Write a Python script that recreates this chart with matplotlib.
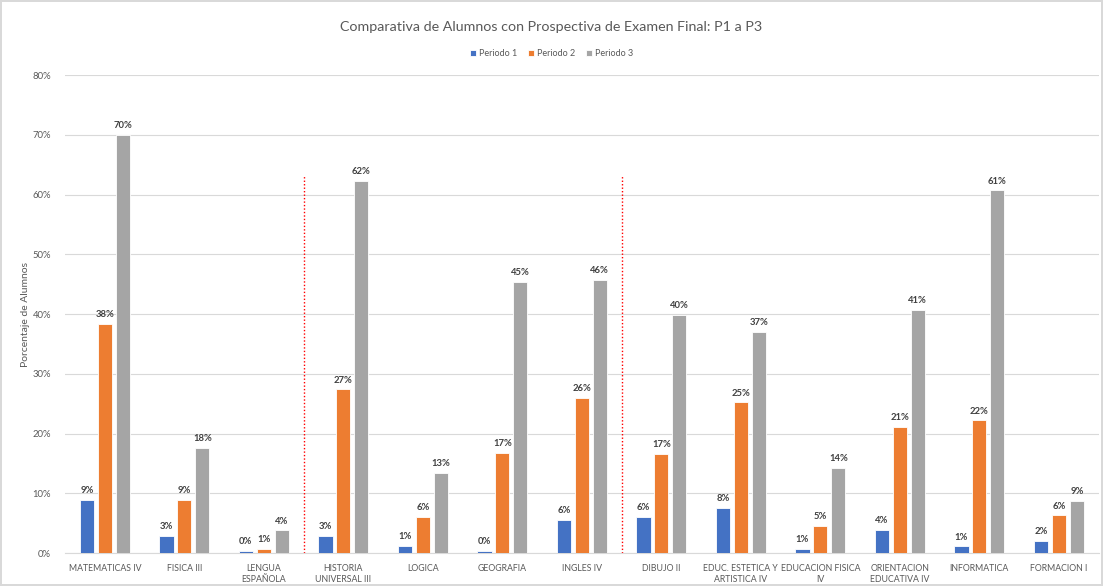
import matplotlib
matplotlib.use("Agg")
import matplotlib.pyplot as plt
from matplotlib.ticker import PercentFormatter
import numpy as np

plt.rcParams['font.family'] = ['Lato', 'DejaVu Sans']

categories = ["MATEMATICAS IV", "FISICA III", "LENGUA\nESPAÑOLA", "HISTORIA\nUNIVERSAL III",
              "LOGICA", "GEOGRAFIA", "INGLES IV", "DIBUJO II", "EDUC. ESTETICA Y\nARTISTICA IV",
              "EDUCACION FISICA\nIV", "ORIENTACION\nEDUCATIVA IV", "INFORMATICA", "FORMACION I"]
periodo1 = [0.089, 0.028, 0.003, 0.028, 0.012, 0.003, 0.056, 0.060, 0.076, 0.007, 0.039, 0.011, 0.020]
periodo2 = [0.383, 0.089, 0.007, 0.274, 0.060, 0.167, 0.260, 0.166, 0.252, 0.046, 0.211, 0.222, 0.063]
periodo3 = [0.700, 0.176, 0.038, 0.623, 0.134, 0.454, 0.457, 0.398, 0.370, 0.143, 0.407, 0.607, 0.087]
series_names = ["Periodo 1", "Periodo 2", "Periodo 3"]
colors = ["#4472C4", "#ED7D31", "#A5A5A5"]
separators = [2.5, 6.5]

fig = plt.figure(figsize=(11.03, 5.86), dpi=100)
fig.patch.set_facecolor("white")
fig.patch.set_edgecolor("#D9D9D9")
fig.patch.set_linewidth(1.5)
ax = fig.add_axes([0.059, 0.0563, 0.937, 0.8157])

x = np.arange(len(categories))
w = 0.18
off = 0.226
for i, (vals, name, c) in enumerate(zip([periodo1, periodo2, periodo3], series_names, colors)):
    pos = x + (i - 1) * off
    ax.bar(pos, vals, width=w, color=c, label=name, edgecolor="white", linewidth=0.6, zorder=3)
    for xp, v in zip(pos, vals):
        ax.text(xp, v + 0.008, f"{v*100:.0f}%", ha="center", va="bottom", fontsize=6.8,
                color="#404040", fontweight="bold", zorder=4)

for s in separators:
    ax.axvline(s, ymin=0, ymax=0.79, color="#FF0000", linestyle=(0, (1, 1.5)), linewidth=1.0, zorder=2)

ax.set_ylim(0, 0.8)
ax.set_xlim(-0.5, len(categories) - 0.5)
ax.set_yticks(np.arange(0, 0.81, 0.1))
ax.yaxis.set_major_formatter(PercentFormatter(1.0, decimals=0))
ax.grid(axis="y", color="#D9D9D9", linewidth=0.8, zorder=0)
ax.set_axisbelow(True)
for sp in ["top", "right", "left"]:
    ax.spines[sp].set_visible(False)
ax.spines["bottom"].set_color("#D9D9D9")
ax.tick_params(axis="both", length=0, labelsize=6.8, colors="#595959")
ax.tick_params(axis="y", pad=10)
ax.tick_params(axis="x", pad=8)
ax.set_xticks(x)
ax.set_xticklabels(categories, fontsize=6.3, color="#595959", linespacing=1.2)
ax.set_ylabel("Porcentaje de Alumnos", fontsize=7.5, color="#595959")
ax.yaxis.set_label_coords(-0.034, 0.5)

fig.suptitle("Comparativa de Alumnos con Prospectiva de Examen Final: P1 a P3",
             y=0.965, fontsize=10.3, color="#595959")
fig.legend(loc="center", bbox_to_anchor=(0.5, 0.908), ncol=3, frameon=False, fontsize=6.5,
           handlelength=0.7, handleheight=0.7, handletextpad=0.3, columnspacing=1.2,
           labelcolor="#595959")

fig.savefig("out.png", dpi=100, facecolor=fig.get_facecolor(), edgecolor=fig.get_edgecolor())
